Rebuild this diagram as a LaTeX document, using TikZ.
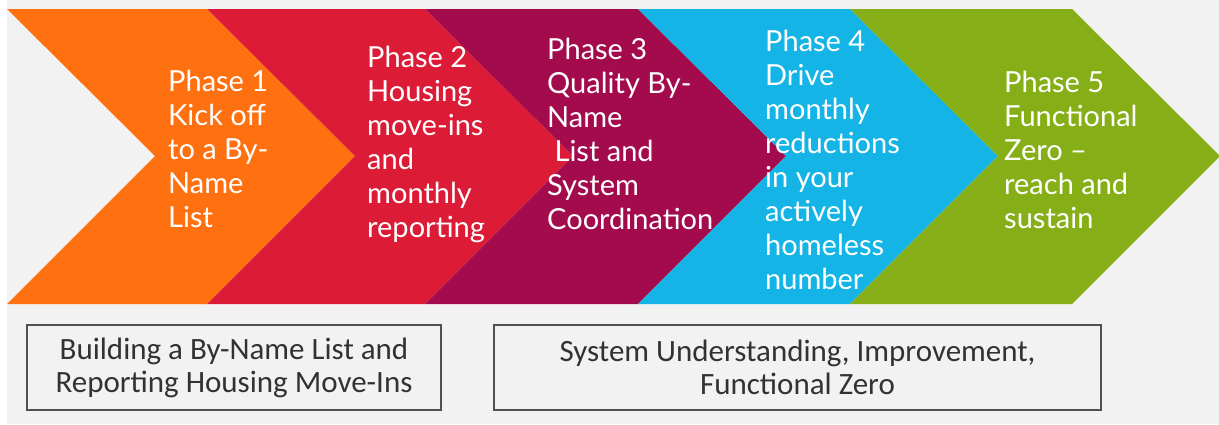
\documentclass[tikz,border=0pt]{standalone}
\usepackage{fontspec}
\usepackage{tikz}
\newfontfamily\phasefont[Ligatures=TeX]{Lato}
\newfontfamily\boxfont[Ligatures=TeX]{Carlito}
\definecolor{pagegray}{RGB}{242,242,242}
\definecolor{phaseorange}{RGB}{255,112,16}
\definecolor{phasered}{RGB}{220,27,54}
\definecolor{phasepurple}{RGB}{163,11,76}
\definecolor{phaseblue}{RGB}{20,180,230}
\definecolor{phasegreen}{RGB}{134,175,23}
\definecolor{boxline}{RGB}{80,80,80}
\definecolor{boxtext}{RGB}{50,50,50}

\begin{document}
\begin{tikzpicture}[x=1pt,y=-1pt]
		\tikzset{phase/.style = {anchor=base west, align=left, inner sep=0pt, text=white,
				font=\phasefont\fontsize{29}{34}\selectfont}}
		\tikzset{stagebox/.style = {draw=boxline, line width=1.5pt, fill=pagegray, align=center,
				minimum height=85pt, inner sep=0pt, text=boxtext,
				font=\boxfont\fontsize{31}{33}\selectfont}}
		\useasboundingbox (0,0) rectangle (1219,424);
		\fill[white] (0,0) rectangle (1219,424);
		\fill[pagegray] (7,0) rectangle (1219,424);
		% chevrons
		\fill[phaseorange] (7,9) -- (207,9) -- (355,156) -- (207,304) -- (7,304) -- (155,156) -- cycle;
		\fill[phasered] (207,9) -- (425,9) -- (573,156) -- (425,304) -- (207,304) -- (355,156) -- cycle;
		\fill[phasepurple] (425,9) -- (638,9) -- (786,156) -- (638,304) -- (425,304) -- (573,156) -- cycle;
		\fill[phaseblue] (638,9) -- (850,9) -- (998,156) -- (850,304) -- (638,304) -- (786,156) -- cycle;
		\fill[phasegreen] (850,9) -- (1072,9) -- (1220,156) -- (1072,304) -- (850,304) -- (998,156) -- cycle;
		% labels (anchored at the last line)
		\node[phase] (p1) at (168,227) {Phase 1\\Kick off\\to a By-\\Name\\List};
		\node[phase] (p2) at (367,237) {Phase 2\\Housing\\move-ins\\and\\monthly\\reporting};
		\node[phase] (p3) at (547,229) {Phase 3\\Quality By-\\Name\\\ List and\\System\\Coordination};
		\node[phase] (p4) at (765,289) {Phase 4\\Drive\\monthly\\reductions\\in your\\actively\\homeless\\number};
		\node[phase] (p5) at (1004,228) {Phase 5\\Functional\\Zero –\\reach and\\sustain};
		% boxes
		\node[stagebox, minimum width=414pt] (build) at (234,367.5) {Building a By-Name List and\\Reporting Housing Move-Ins};
		\node[stagebox, minimum width=607pt] (system) at (797.5,367.5) {System Understanding, Improvement,\\Functional Zero};
\end{tikzpicture}
\end{document}
